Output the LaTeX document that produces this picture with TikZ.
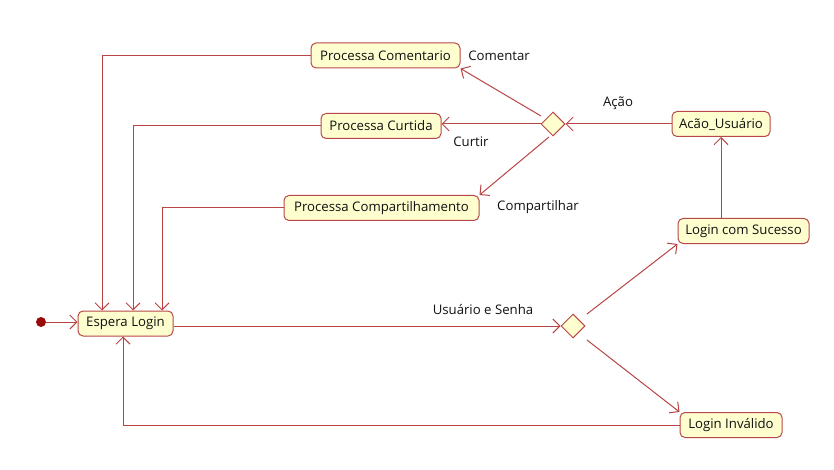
\documentclass[tikz,border=0pt]{standalone}
\usepackage{fontspec}
\setmainfont{Open Sans}
\usetikzlibrary{arrows.meta,shapes.geometric,calc}
\definecolor{ln}{HTML}{B84444}
\definecolor{bd}{HTML}{B84848}
\definecolor{fl}{HTML}{FEFECE}
\definecolor{tx}{HTML}{111111}
\definecolor{dot}{HTML}{9A0A0A}
\tikzset{
  state/.style={draw=bd,fill=fl,rounded corners=5pt,line width=1pt,minimum height=25pt,inner xsep=6pt,font=\fontsize{13.2}{15}\selectfont,text=tx},
  dec/.style={draw=bd,fill=fl,diamond,minimum width=24pt,minimum height=24pt,inner sep=0pt,line width=1pt},
  conn/.style={draw=ln,line width=1pt,-{Straight Barb[length=7pt,width=14pt]}},
  lbl/.style={font=\fontsize{13.2}{15}\selectfont,text=tx}
}
\begin{document}
\begin{tikzpicture}[x=1pt,y=-1pt]
\useasboundingbox (0,0) rectangle (834,470);
\node[state,minimum width=149pt] (com) at (385.5,55.5) {Processa Comentario};
\node[state,minimum width=120pt] (cur) at (381,126) {Processa Curtida};
\node[state,minimum width=195pt] (cmp) at (381.5,208) {Processa Compartilhamento};
\node[state,minimum width=98pt] (acao) at (721,124) {Acão\_Usuário};
\node[state,minimum width=131pt] (suc) at (743.5,231) {Login com Sucesso};
\node[state,minimum width=102pt] (inv) at (731,425) {Login Inválido};
\node[state,minimum width=95pt] (esp) at (125.5,323.5) {Espera Login};
\node[circle,fill=dot,minimum size=10pt,inner sep=0pt] (ini) at (41,322) {};
\node[dec] (d1) at (553,124) {};
\node[dec] (d2) at (573,326) {};

\coordinate (c1) at (102,55.5);
\coordinate (c2) at (133,126);
\coordinate (c3) at (162,208);
\coordinate (c4) at (123,425);

\draw[conn] (ini) -- (esp.west |- ini);
\draw[conn] (com.west) -- (c1) -- (c1 |- esp.north);
\draw[conn] (cur.west) -- (c2) -- (c2 |- esp.north);
\draw[conn] (cmp.west) -- (c3) -- (c3 |- esp.north);
\draw[conn] (esp.east |- d2) -- (d2.west);
\draw[conn] ($(d2)+(14,-12)$) -- (suc.south west);
\draw[conn] ($(d2)+(14,14)$) -- (inv.north west);
\draw[conn] (inv.west) -- (c4) -- (c4 |- esp.south);
\draw[conn] (suc.north -| acao.south) -- (acao.south);
\draw[conn] (acao.west) -- (d1.east);
\draw[conn] (d1.west) -- (cur.east |- d1);
\draw[conn] ($(d1)+(-12,-8)$) -- (com.south east);
\draw[conn] ($(d1)+(-4,13)$) -- (cmp.north east);
\node[lbl] (lu) at (483,310) {Usuário e Senha};
\node[lbl] (la) at (618,103) {Ação};
\node[lbl] (lt) at (471,142) {Curtir};
\node[lbl] (lc) at (499,56) {Comentar};
\node[lbl] (lp) at (538,207) {Compartilhar};
\end{tikzpicture}
\end{document}
